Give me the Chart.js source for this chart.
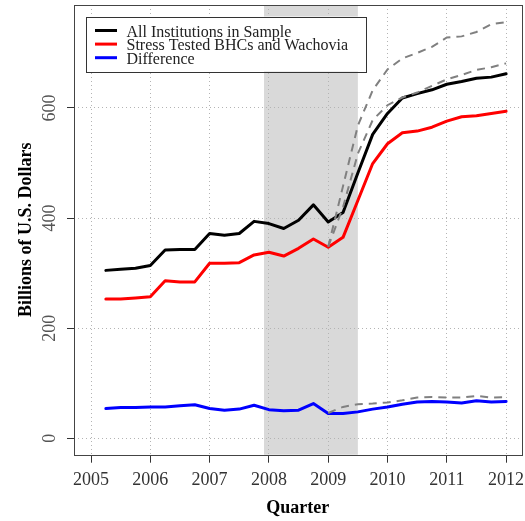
<!DOCTYPE html>
<html>
<head>
<meta charset="utf-8">
<script src="https://cdn.jsdelivr.net/npm/chart.js@4/dist/chart.umd.min.js"></script>
<style>
  html, body { margin: 0; padding: 0; background: #ffffff; }
  canvas { display: block; }
</style>
</head>
<body>
<canvas id="chart" width="525" height="521"></canvas>
<script>
// Quarterly observations (decimal years)
const QUARTERS = [
  2005.25, 2005.5, 2005.75, 2006.0, 2006.25, 2006.5, 2006.75, 2007.0,
  2007.25, 2007.5, 2007.75, 2008.0, 2008.25, 2008.5, 2008.75, 2009.0,
  2009.25, 2009.5, 2009.75, 2010.0, 2010.25, 2010.5, 2010.75, 2011.0,
  2011.25, 2011.5, 2011.75, 2012.0
];

// Billions of U.S. dollars
const ALL_INSTITUTIONS = [
  305, 307, 309, 314, 342, 343, 343, 372,
  369, 372, 394, 390, 381, 396, 424, 393,
  410, 482, 552, 590, 618, 626, 633, 643,
  648, 654, 656, 662
];
const STRESS_TESTED = [
  253, 253, 255, 257, 286, 284, 284, 318,
  318, 319, 333, 338, 331, 345, 362, 347,
  365, 432, 499, 535, 555, 558, 565, 576,
  584, 586, 590, 594
];
const DIFFERENCE = [
  54, 56, 56, 57, 57, 59, 61, 54,
  51, 53, 60, 52, 50, 51, 63, 45,
  45, 48, 53, 57, 62, 66, 67, 66,
  64, 68, 66, 67
];

// Alternative paths from 2009 onward (dashed)
const ALT_QUARTERS = [
  2009.0, 2009.25, 2009.5, 2009.75, 2010.0, 2010.25, 2010.5,
  2010.75, 2011.0, 2011.25, 2011.5, 2011.75, 2012.0
];
const ALT_HIGH = [348, 458, 568, 632, 670, 690, 700, 711, 728, 730, 738, 752, 756];
const ALT_LOW  = [348, 420, 517, 578, 605, 619, 628, 640, 652, 660, 669, 674, 681];
const ALT_DIFFERENCE = [46, 57, 62, 63, 65, 69, 74, 75, 74, 74, 77, 74, 75];

const SERIES_LABELS = [
  'All Institutions in Sample',
  'Stress Tested BHCs and Wachovia',
  'Difference'
];

const YEAR_TICKS = [2005, 2006, 2007, 2008, 2009, 2010, 2011, 2012];
const VALUE_TICKS = [0, 200, 400, 600];
const RECESSION = [2007.917, 2009.5];

const X_TITLE = 'Quarter';
const Y_TITLE = 'Billions of U.S. Dollars';

const SERIF = '"Liberation Serif", "Times New Roman", serif';

const toPoints = (xs, ys) => xs.map((x, i) => ({ x: x, y: ys[i] }));

// Grey band for the recession period, under the grid
const recessionBand = {
  id: 'recessionBand',
  beforeDraw(chart) {
    const { ctx, chartArea: a, scales: { x } } = chart;
    const x0 = x.getPixelForValue(RECESSION[0]);
    const x1 = x.getPixelForValue(RECESSION[1]);
    ctx.save();
    ctx.fillStyle = '#d9d9d9';
    ctx.fillRect(x0, a.top, x1 - x0, a.bottom - a.top);
    ctx.restore();
  }
};

// Plot frame, axis labels, titles and the legend box
const frameAndText = {
  id: 'frameAndText',
  afterDraw(chart) {
    const { ctx, chartArea: a, scales: { x, y } } = chart;
    ctx.save();

    ctx.strokeStyle = '#444';
    ctx.lineWidth = 1;
    ctx.strokeRect(Math.round(a.left) + 0.5, Math.round(a.top) + 0.5,
                   Math.round(a.right - a.left), Math.round(a.bottom - a.top));

    // x tick labels
    ctx.fillStyle = '#333';
    ctx.font = '18px ' + SERIF;
    ctx.textAlign = 'center';
    ctx.textBaseline = 'alphabetic';
    YEAR_TICKS.forEach(v => ctx.fillText(String(v), x.getPixelForValue(v), a.bottom + 30));

    // y tick labels, rotated
    ctx.fillStyle = '#555';
    VALUE_TICKS.forEach(v => {
      ctx.save();
      ctx.translate(a.left - 19, y.getPixelForValue(v));
      ctx.rotate(-Math.PI / 2);
      ctx.fillText(String(v), 0, 0);
      ctx.restore();
    });

    // axis titles
    ctx.fillStyle = '#000';
    ctx.font = 'bold 18px ' + SERIF;
    ctx.fillText(X_TITLE, (a.left + a.right) / 2, a.bottom + 58);
    ctx.save();
    ctx.translate(31, (a.top + a.bottom) / 2);
    ctx.rotate(-Math.PI / 2);
    ctx.fillText(Y_TITLE, 0, 0);
    ctx.restore();

    // legend
    const lx = a.left + 12, ly = a.top + 11.5;
    ctx.fillStyle = '#fff';
    ctx.fillRect(lx, ly, 280, 55);
    ctx.strokeStyle = '#333';
    ctx.lineWidth = 1;
    ctx.strokeRect(Math.round(lx) + 0.5, Math.round(ly) + 0.5, 280, 55);
    ctx.font = '16px ' + SERIF;
    ctx.textAlign = 'left';
    const entries = chart.data.datasets.filter(d => d.label);
    entries.forEach((d, i) => {
      const rowY = ly + 14 + i * 13.6;
      ctx.strokeStyle = d.borderColor;
      ctx.lineWidth = 3;
      ctx.beginPath();
      ctx.moveTo(lx + 9, rowY);
      ctx.lineTo(lx + 31, rowY);
      ctx.stroke();
      ctx.fillStyle = '#222';
      ctx.fillText(d.label, lx + 40.5, rowY + 6);
    });

    ctx.restore();
  }
};

const solid = (label, color, values) => ({
  label: label,
  data: toPoints(QUARTERS, values),
  borderColor: color,
  borderWidth: 3,
  pointRadius: 0,
  tension: 0,
  borderJoinStyle: 'round',
  borderCapStyle: 'round',
  order: 1
});

const dashed = (values) => ({
  data: toPoints(ALT_QUARTERS, values),
  borderColor: '#808080',
  borderWidth: 2,
  borderDash: [8, 6],
  pointRadius: 0,
  tension: 0,
  order: 0
});

new Chart(document.getElementById('chart'), {
  type: 'line',
  data: {
    datasets: [
      solid(SERIES_LABELS[0], '#000000', ALL_INSTITUTIONS),
      solid(SERIES_LABELS[1], '#ff0000', STRESS_TESTED),
      solid(SERIES_LABELS[2], '#0000ff', DIFFERENCE),
      dashed(ALT_HIGH),
      dashed(ALT_LOW),
      dashed(ALT_DIFFERENCE)
    ]
  },
  options: {
    responsive: false,
    animation: false,
    devicePixelRatio: 1,
    layout: { padding: { top: 5, right: 3.3, left: 0, bottom: 0 } },
    plugins: { legend: { display: false }, tooltip: { enabled: false } },
    scales: {
      x: {
        type: 'linear',
        min: 2004.713,
        max: 2012.263,
        afterBuildTicks: s => { s.ticks = YEAR_TICKS.map(v => ({ value: v })); },
        afterFit: s => { s.height = 66.3; },
        ticks: { display: false },
        grid: {
          color: '#b4b4b4',
          lineWidth: 1,
          drawTicks: true,
          tickLength: 8,
          tickColor: '#333',
          tickWidth: 1
        },
        border: { display: false, dash: [1, 3] }
      },
      y: {
        type: 'linear',
        min: -29.8,
        max: 787,
        afterBuildTicks: s => { s.ticks = VALUE_TICKS.map(v => ({ value: v })); },
        afterFit: s => { s.width = 74; },
        ticks: { display: false },
        grid: {
          color: '#b4b4b4',
          lineWidth: 1,
          drawTicks: true,
          tickLength: 7,
          tickColor: '#333',
          tickWidth: 1
        },
        border: { display: false, dash: [1, 3] }
      }
    }
  },
  plugins: [recessionBand, frameAndText]
});
</script>
</body>
</html>
